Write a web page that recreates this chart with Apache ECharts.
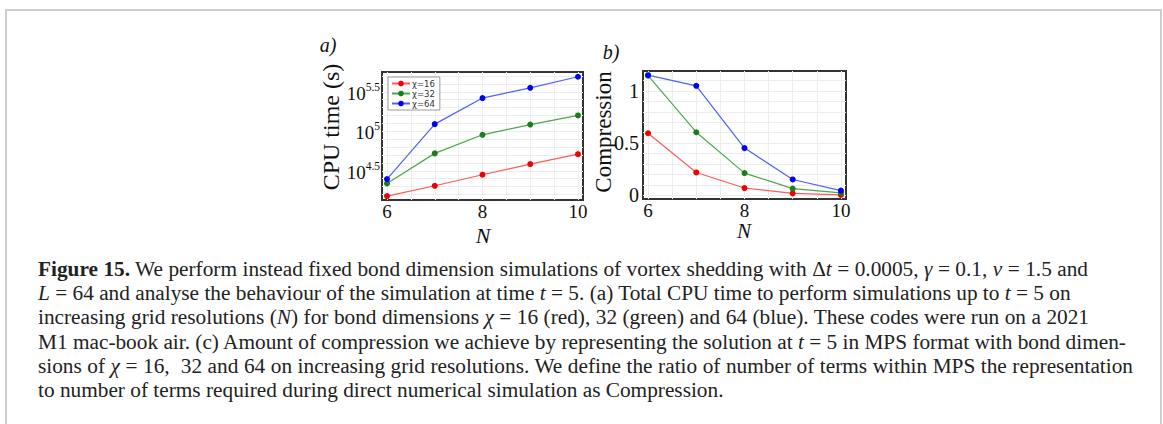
<!DOCTYPE html>
<html lang="en">
<head>
    <meta charset="UTF-8">
    <title>Figure 15</title>
    <script type="text/javascript" src="https://cdn.jsdelivr.net/npm/echarts@6/dist/echarts.min.js"></script>
    <style>
        body { margin: 0; background: #fff; }
        #frame { position: absolute; left: 5px; top: 9px; width: 1153px; height: 430px;
                 border: 2px solid #cdcdcd; border-bottom: none; }
        #chart1 { position: absolute; left: 0; top: 0; width: 1163px; height: 424px; }
        #caption { position: absolute; left: 38px; top: 257px; font-family: "Liberation Serif", "DejaVu Serif", serif;
                   font-size: 21.3px; line-height: 24.2px; color: #222; }
        #caption .ln { white-space: nowrap; text-align: justify; text-align-last: justify; }
        #caption .last { text-align: left; text-align-last: left; }
    </style>
</head>
<body>
<div id="frame"></div>
<div id="chart1"></div>
<div id="caption">
    <div class="ln" style="width:1050px"><b>Figure 15.</b> We perform instead fixed bond dimension simulations of vortex shedding with &Delta;<i>t</i> = 0.0005, <i>&gamma;</i> = 0.1, <i>&nu;</i> = 1.5 and</div>
    <div class="ln" style="width:1030px"><i>L</i> = 64 and analyse the behaviour of the simulation at time <i>t</i> = 5. (a) Total CPU time to perform simulations up to <i>t</i> = 5 on</div>
    <div class="ln" style="width:1051px">increasing grid resolutions (<i>N</i>) for bond dimensions <i>&chi;</i> = 16 (red), 32 (green) and 64 (blue). These codes were run on a 2021</div>
    <div class="ln" style="width:1084px">M1 mac-book air. (c) Amount of compression we achieve by representing the solution at <i>t</i> = 5 in MPS format with bond dimen-</div>
    <div class="ln" style="width:1095px">sions of <i>&chi;</i> = 16,&nbsp; 32 and 64 on increasing grid resolutions. We define the ratio of number of terms within MPS the representation</div>
    <div class="ln last">to number of terms required during direct numerical simulation as Compression.</div>
</div>
<script type="text/javascript">
    // data
    var nValues = [6, 7, 8, 9, 10];
    // a) CPU time, stored as log10 of seconds
    var cpuChi16 = [4.18, 4.31, 4.45, 4.585, 4.71];
    var cpuChi32 = [4.34, 4.72, 4.955, 5.085, 5.20];
    var cpuChi64 = [4.395, 5.09, 5.42, 5.55, 5.69];
    // b) compression
    var compChi16 = [0.594, 0.219, 0.070, 0.019, 0.004];
    var compChi32 = [1.145, 0.604, 0.213, 0.064, 0.023];
    var compChi64 = [1.15, 1.048, 0.452, 0.152, 0.045];

    var seriesNames = ['\u03c7=16', '\u03c7=32', '\u03c7=64'];
    var xTickLabels = [6, 8, 10];
    var cpuTickLabels = [4.5, 5, 5.5];
    var compTickLabels = [0, 0.5, 1];
    var xGridValues = [6, 6.5, 7, 7.5, 8, 8.5, 9, 9.5, 10];
    var cpuGridValues = [4.2, 4.3, 4.4, 4.5, 4.6, 4.7, 4.8, 4.9, 5, 5.1, 5.2, 5.3, 5.4, 5.5, 5.6, 5.7];
    var compGridValues = [0, 0.1, 0.2, 0.3, 0.4, 0.5, 0.6, 0.7, 0.8, 0.9, 1, 1.1];

    var serif = '"Liberation Serif", "DejaVu Serif", serif';
    var markColors = ['#ee0000', '#1b7d1b', '#0000f0'];
    var lineColors = ['#ff5a5a', '#4aa84a', '#5060ff'];

    function pairs(ys) {
        var out = [];
        for (var i = 0; i < nValues.length; i++) {
            out.push([nValues[i], ys[i]]);
        }
        return out;
    }

    function lineSeries(k, ys, idx) {
        return {
            name: seriesNames[k],
            type: 'line',
            xAxisIndex: idx,
            yAxisIndex: idx,
            data: pairs(ys),
            symbol: 'circle',
            symbolSize: 6,
            itemStyle: {color: markColors[k]},
            lineStyle: {color: lineColors[k], width: 1.2},
            emphasis: {disabled: true},
            z: 3
        };
    }

    function xAxisFor(idx) {
        return {
            type: 'value',
            gridIndex: idx,
            min: 5.895,
            max: 10.105,
            axisLine: {show: false},
            axisTick: {show: false, customValues: xGridValues},
            splitLine: {show: true, lineStyle: {color: '#ededed', width: 1}},
            axisLabel: {
                customValues: xTickLabels,
                margin: 2,
                color: '#111',
                fontFamily: serif,
                fontSize: 19
            }
        };
    }

    var myChart = echarts.init(document.getElementById('chart1'), null, {renderer: 'svg'});

    var option = {
        animation: false,
        grid: [
            {left: 382, top: 72, width: 201, height: 128, show: true, borderColor: '#333', borderWidth: 2},
            {left: 643, top: 71, width: 203, height: 128, show: true, borderColor: '#333', borderWidth: 2}
        ],
        legend: {
            data: seriesNames,
            orient: 'vertical',
            left: 388,
            top: 77,
            padding: [2, 5, 2, 3],
            itemGap: 1,
            itemWidth: 18,
            itemHeight: 7,
            borderColor: '#9a9a9a',
            borderWidth: 1,
            backgroundColor: '#fff',
            textStyle: {fontSize: 8.5, color: '#333', fontFamily: 'DejaVu Sans', padding: [0, 0, 0, -3]}
        },
        xAxis: [xAxisFor(0), xAxisFor(1)],
        yAxis: [
            {
                type: 'value',
                gridIndex: 0,
                min: 4.13,
                max: 5.75,
                axisLine: {show: false},
                axisTick: {show: false, customValues: cpuGridValues},
                splitLine: {show: true, lineStyle: {color: '#ededed', width: 1}},
                axisLabel: {
                    customValues: cpuTickLabels,
                    margin: 2,
                    color: '#111',
                    formatter: function (v) {
                        return '{b|10}{s|' + v + '}';
                    },
                    rich: {
                        b: {fontFamily: serif, fontSize: 19, padding: [3, 0, 0, 0], color: '#111'},
                        s: {fontFamily: serif, fontSize: 11.5, verticalAlign: 'top', color: '#111'}
                    }
                }
            },
            {
                type: 'value',
                gridIndex: 1,
                min: -0.035,
                max: 1.19,
                axisLine: {show: false},
                axisTick: {show: false, customValues: compGridValues},
                splitLine: {show: true, lineStyle: {color: '#ededed', width: 1}},
                axisLabel: {
                    customValues: compTickLabels,
                    margin: 4,
                    color: '#111',
                    fontFamily: serif,
                    fontSize: 20
                }
            }
        ],
        graphic: [
            {type: 'text', x: 328, y: 45, style: {text: 'a)', font: 'italic 20px ' + serif, fill: '#111', align: 'center', verticalAlign: 'middle'}},
            {type: 'text', x: 611, y: 52, style: {text: 'b)', font: 'italic 20px ' + serif, fill: '#111', align: 'center', verticalAlign: 'middle'}},
            {type: 'text', x: 331, y: 127, rotation: Math.PI / 2, style: {text: 'CPU time (s)', font: '24px ' + serif, fill: '#111', align: 'center', verticalAlign: 'middle'}},
            {type: 'text', x: 603, y: 132, rotation: Math.PI / 2, style: {text: 'Compression', font: '23px ' + serif, fill: '#111', align: 'center', verticalAlign: 'middle'}},
            {type: 'text', x: 483, y: 235, style: {text: 'N', font: 'italic 22px ' + serif, fill: '#111', align: 'center', verticalAlign: 'middle'}},
            {type: 'text', x: 744, y: 231, style: {text: 'N', font: 'italic 21px ' + serif, fill: '#111', align: 'center', verticalAlign: 'middle'}}
        ],
        series: [
            lineSeries(0, cpuChi16, 0),
            lineSeries(1, cpuChi32, 0),
            lineSeries(2, cpuChi64, 0),
            lineSeries(0, compChi16, 1),
            lineSeries(1, compChi32, 1),
            lineSeries(2, compChi64, 1)
        ]
    };
    myChart.setOption(option);
</script>
</body>
</html>
